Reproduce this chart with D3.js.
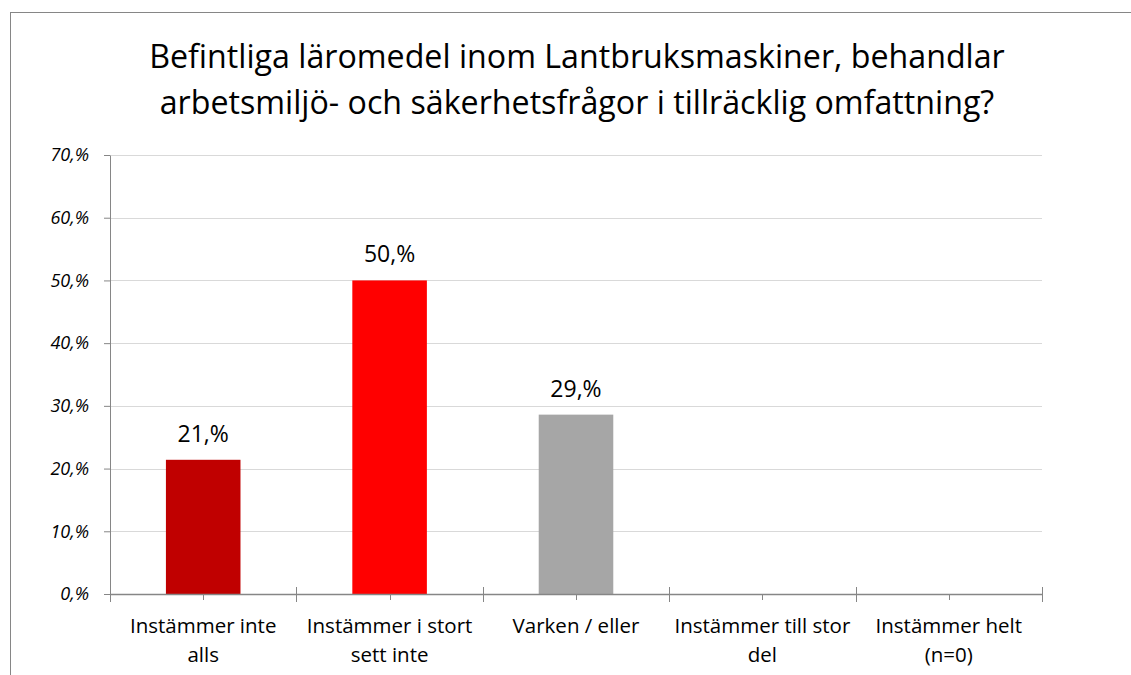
<!DOCTYPE html>
<html>
<head>
<meta charset="utf-8">
<script src="https://cdn.jsdelivr.net/npm/d3@7"></script>
<style>
  body { margin: 0; background: #fff; }
  svg { display: block; font-family: "Open Sans", sans-serif; }
</style>
</head>
<body>
<div id="chart"></div>
<script>
// chart data
var titleLines = ["Befintliga läromedel inom Lantbruksmaskiner, behandlar",
                  "arbetsmiljö- och säkerhetsfrågor i tillräcklig omfattning?"]
var categories = [["Instämmer inte", "alls"],
                  ["Instämmer i stort", "sett inte"],
                  ["Varken / eller"],
                  ["Instämmer till stor", "del"],
                  ["Instämmer helt", "(n=0)"]]
var values = [21.4, 50.0, 28.6, null, null]
var barColors = ["#c00000", "#ff0000", "#a6a6a6", "#a6a6a6", "#a6a6a6"]
var yTicks = [0, 10, 20, 30, 40, 50, 60, 70]

const W = 1131, H = 675
const margin = {top: 155, left: 110, right: 89, bottom: 81}
const width = W - margin.left - margin.right
const height = H - margin.top - margin.bottom

const svg = d3.select("#chart").append("svg")
    .attr("width", W)
    .attr("height", H)

// outer chart border (right and bottom edge fall outside the picture)
svg.append("rect")
    .attr("x", 10.5).attr("y", 12.5)
    .attr("width", W).attr("height", H)
    .attr("fill", "none")
    .attr("stroke", "#868686")

// title
svg.append("text")
    .attr("y", 68)
    .attr("text-anchor", "middle")
    .attr("font-size", 32.2)
    .attr("fill", "#000")
    .selectAll("tspan")
    .data(titleLines)
    .enter().append("tspan")
    .attr("x", 577)
    .attr("dy", (d, i) => i == 0 ? 0 : 46)
    .text(d => d)

const g = svg.append("g")
    .attr("transform", `translate(${margin.left},${margin.top})`)

const idx = d3.range(categories.length)
const xScale = d3.scaleBand().domain(idx).range([0, width]).paddingInner(0.6).paddingOuter(0.3)
const xBound = d3.scaleLinear().domain([0, categories.length]).range([0, width])
const yScale = d3.scaleLinear().domain([0, 70]).range([height, 0])

// gridlines
g.append("g")
    .selectAll("line")
    .data(yTicks.filter(d => d > 0))
    .enter().append("line")
    .attr("x1", 0).attr("x2", width)
    .attr("y1", d => Math.round(yScale(d)) + 0.5)
    .attr("y2", d => Math.round(yScale(d)) + 0.5)
    .attr("stroke", "#d9d9d9")
    .attr("stroke-width", 1.2)

// y axis
const yAxis = d3.axisLeft(yScale)
    .tickValues(yTicks)
    .tickSize(6)
    .tickPadding(15)
    .tickFormat(d => d + ",%")
const yAxisGroup = g.append("g").call(yAxis)
yAxisGroup.select(".domain").attr("stroke", "#868686").attr("d", `M0.5,0.5V${height}`)
yAxisGroup.selectAll(".tick line").attr("stroke", "#868686")
yAxisGroup.selectAll("text")
    .attr("font-size", 18)
    .attr("font-style", "italic")
    .attr("fill", "#000")
    .attr("font-family", "'Open Sans', sans-serif")

// bars
g.append("g")
    .selectAll("rect")
    .data(values)
    .enter().append("rect")
    .attr("x", (d, i) => xScale(i))
    .attr("width", xScale.bandwidth())
    .attr("y", d => yScale(d || 0))
    .attr("height", d => height - yScale(d || 0))
    .attr("fill", (d, i) => barColors[i])

// data labels
g.append("g")
    .selectAll("text")
    .data(values)
    .enter().append("text")
    .filter(d => d != null)
    .attr("x", (d, i) => xScale(i) + xScale.bandwidth() / 2)
    .attr("y", d => yScale(d) - 18)
    .attr("text-anchor", "middle")
    .attr("font-size", 23)
    .attr("fill", "#000")
    .text(d => Math.round(d) + ",%")

// x axis: boundary ticks cross the line, centre ticks below
const xg = g.append("g").attr("transform", `translate(0,${height})`)
xg.append("line")
    .attr("x1", 0).attr("x2", width)
    .attr("y1", 0.5).attr("y2", 0.5)
    .attr("stroke", "#868686").attr("stroke-width", 1.5)
xg.selectAll(".major")
    .data(d3.range(categories.length + 1))
    .enter().append("line")
    .attr("x1", d => Math.round(xBound(d)) + 0.5)
    .attr("x2", d => Math.round(xBound(d)) + 0.5)
    .attr("y1", -7).attr("y2", 8)
    .attr("stroke", "#868686")
xg.selectAll(".minor")
    .data(idx)
    .enter().append("line")
    .attr("x1", d => Math.round(xBound(d + 0.5)) + 0.5)
    .attr("x2", d => Math.round(xBound(d + 0.5)) + 0.5)
    .attr("y1", 0).attr("y2", 6)
    .attr("stroke", "#868686")

// category labels
xg.selectAll(".cat")
    .data(categories)
    .enter().append("text")
    .attr("text-anchor", "middle")
    .attr("font-size", 20.5)
    .attr("fill", "#000")
    .attr("y", 39)
    .selectAll("tspan")
    .data((d, i) => d.map(t => ({t: t, i: i})))
    .enter().append("tspan")
    .attr("x", d => xBound(d.i + 0.5))
    .attr("dy", (d, j) => j == 0 ? 0 : 29)
    .text(d => d.t)
</script>
</body>
</html>
